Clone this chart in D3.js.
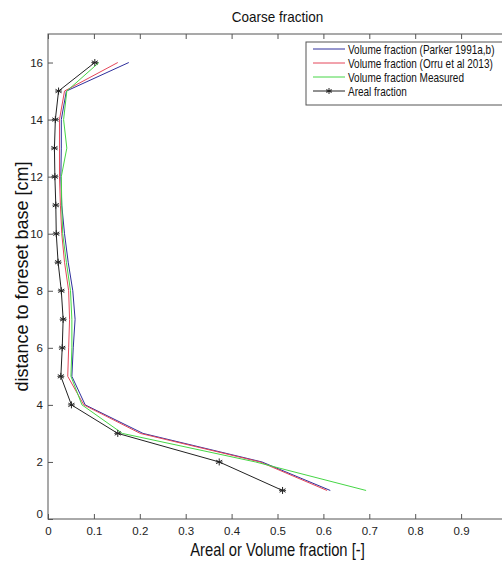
<!DOCTYPE html>
<html>
<head>
<meta charset="utf-8">
<script src="https://cdn.jsdelivr.net/npm/d3@7"></script>
<style>
  body { margin: 0; background: #fff; }
  text { font-family: Arial, "Liberation Sans", sans-serif; }
</style>
</head>
<body>
<script>
// distance to foreset base (cm)
var depth = [1, 2, 3, 4, 5, 6, 7, 8, 9, 10, 11, 12, 13, 14, 15, 16];

var parker   = [0.615, 0.466, 0.207, 0.081, 0.052, 0.055, 0.059, 0.054, 0.044, 0.036, 0.030, 0.028, 0.029, 0.029, 0.040, 0.176];
var orru     = [0.608, 0.462, 0.201, 0.078, 0.043, 0.045, 0.047, 0.045, 0.036, 0.030, 0.027, 0.025, 0.025, 0.025, 0.036, 0.152];
var measured = [0.693, 0.452, 0.162, 0.074, 0.050, 0.052, 0.052, 0.049, 0.040, 0.032, 0.030, 0.029, 0.041, 0.034, 0.041, 0.111];
var areal    = [0.511, 0.373, 0.152, 0.051, 0.028, 0.031, 0.033, 0.029, 0.022, 0.018, 0.017, 0.015, 0.014, 0.016, 0.023, 0.102];

var xTicks = [0, 0.1, 0.2, 0.3, 0.4, 0.5, 0.6, 0.7, 0.8, 0.9, 1];
var yTicks = [0, 2, 4, 6, 8, 10, 12, 14, 16];

var seriesNames = ['Volume fraction (Parker 1991a,b)', 'Volume fraction (Orru et al 2013)', 'Volume fraction Measured', 'Areal fraction'];
var seriesColors = ['#2e2e9c', '#e4465a', '#46d646', '#222'];
var seriesData = [parker, orru, measured, areal];

var W = 502, H = 562;
var pL = 48, pT = 34, pR = 507, pB = 519;

var svg = d3.select('body').append('svg')
    .attr('width', W)
    .attr('height', H);

var x = d3.scaleLinear().domain([0, 1]).range([pL, pR]);
var y = d3.scaleLinear().domain([0, 17]).range([pB, pT]);

// narrow text helper (reference font is a bit condensed)
function ntext(g, tx, ty, size, anchor, str, sx) {
    return g.append('text')
        .attr('transform', 'translate(' + tx + ',' + ty + ') scale(' + sx + ',1)')
        .attr('text-anchor', anchor)
        .attr('font-size', size)
        .attr('fill', '#111')
        .text(str);
}

// axes box
svg.append('rect')
    .attr('x', pL).attr('y', pT)
    .attr('width', pR - pL).attr('height', pB - pT)
    .attr('fill', 'none').attr('stroke', '#555').attr('stroke-width', 1);

// bottom axis, inward ticks (the "1" label falls outside the window)
var xAxis = svg.append('g')
    .attr('transform', 'translate(0,' + pB + ')')
    .call(d3.axisBottom(x).tickValues(xTicks).tickSizeInner(-5).tickSizeOuter(0)
        .tickFormat(function(d) { return d === 1 ? '' : d3.format('')(d); }));
xAxis.select('.domain').remove();
xAxis.selectAll('line').attr('stroke', '#555');
xAxis.selectAll('text').attr('y', 8).attr('font-size', 11.5).attr('fill', '#222');

// top ticks
var xTop = svg.append('g')
    .attr('transform', 'translate(0,' + pT + ')')
    .call(d3.axisTop(x).tickValues(xTicks).tickSizeInner(-5).tickSizeOuter(0).tickFormat(''));
xTop.select('.domain').remove();
xTop.selectAll('line').attr('stroke', '#555');

// left axis
var yAxis = svg.append('g')
    .attr('transform', 'translate(' + pL + ',0)')
    .call(d3.axisLeft(y).tickValues(yTicks).tickSizeInner(-5).tickSizeOuter(0));
yAxis.select('.domain').remove();
yAxis.selectAll('line').attr('stroke', '#555');
yAxis.selectAll('text').attr('x', -5).attr('font-size', 11.5).attr('fill', '#222');
yAxis.selectAll('.tick').filter(function(d) { return d === 0; })
    .select('text').attr('dy', '-0.1em');

// series lines
var line = d3.line()
    .x(function(d) { return x(d.v); })
    .y(function(d) { return y(d.h); });

seriesData.forEach(function(vals, i) {
    var pts = vals.map(function(v, j) { return { v: v, h: depth[j] }; });
    svg.append('path')
        .datum(pts)
        .attr('d', line)
        .attr('fill', 'none')
        .attr('stroke', seriesColors[i])
        .attr('stroke-width', 1);
});

// asterisk markers for areal fraction
function star(g, cx, cy, r) {
    [0, 60, 120].forEach(function(a) {
        var rad = a * Math.PI / 180;
        g.append('line')
            .attr('x1', cx - r * Math.sin(rad)).attr('y1', cy - r * Math.cos(rad))
            .attr('x2', cx + r * Math.sin(rad)).attr('y2', cy + r * Math.cos(rad))
            .attr('stroke', '#222').attr('stroke-width', 1);
    });
    g.append('line')
        .attr('x1', cx - r).attr('y1', cy).attr('x2', cx + r).attr('y2', cy)
        .attr('stroke', '#222').attr('stroke-width', 0.8);
}
var mk = svg.append('g');
areal.forEach(function(v, j) { star(mk, x(v), y(depth[j]), 3.5); });

// legend
var lg = svg.append('g');
lg.append('rect')
    .attr('x', 306).attr('y', 42)
    .attr('width', 200).attr('height', 63)
    .attr('fill', '#fff').attr('stroke', '#555').attr('stroke-width', 1);
seriesNames.forEach(function(name, i) {
    var ly = 49 + i * 14;
    lg.append('line')
        .attr('x1', 313).attr('x2', 345)
        .attr('y1', ly).attr('y2', ly)
        .attr('stroke', seriesColors[i]).attr('stroke-width', 1);
    if (i === 3) star(lg, 329, ly, 3);
    ntext(lg, 348, ly + 4.5, 12.5, 'start', name, 0.8);
});

// title and labels
ntext(svg, (pL + pR) / 2, 22, 15, 'middle', 'Coarse fraction', 0.9);
ntext(svg, (pL + pR) / 2, 556, 18, 'middle', 'Areal or Volume fraction [-]', 0.82);

svg.append('text')
    .attr('transform', 'translate(28,' + (pT + pB) / 2 + ') rotate(-90)')
    .attr('text-anchor', 'middle').attr('font-size', 18).attr('fill', '#111')
    .text('distance to foreset base [cm]');
</script>
</body>
</html>
